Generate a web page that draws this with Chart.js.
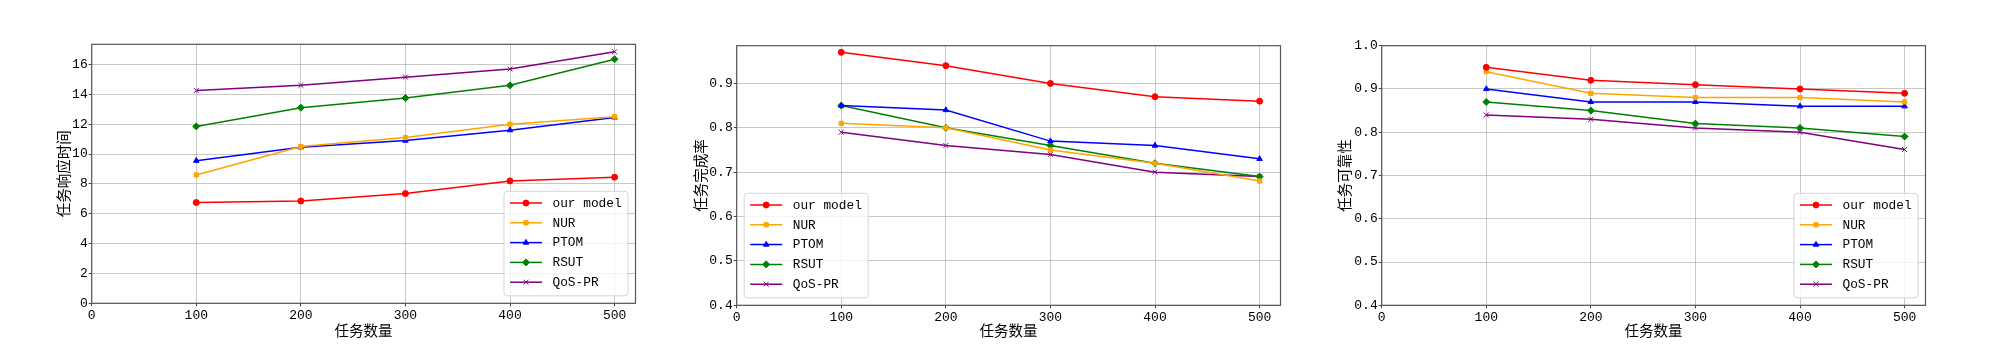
<!DOCTYPE html>
<html lang="zh">
<head>
<meta charset="UTF-8">
<title>任务数量对比</title>
<script src="https://cdn.jsdelivr.net/npm/chart.js"></script>
<style>
    body { margin: 0; background: #fff; }
    .panel { position: absolute; top: 0; }
</style>
</head>
<body>
<div class="panel" style="left:0px"><canvas id="respChart" width="645" height="344"></canvas></div>
<div class="panel" style="left:645px"><canvas id="doneChart" width="645" height="344"></canvas></div>
<div class="panel" style="left:1290px"><canvas id="relChart" width="645" height="344"></canvas></div>
<script>
// x axis: number of tasks
const taskCounts = [100, 200, 300, 400, 500];
const seriesNames = ['our model', 'NUR', 'PTOM', 'RSUT', 'QoS-PR'];

// 任务响应时间
const respOurs = [6.75, 6.85, 7.35, 8.2, 8.45];
const respNUR  = [8.6, 10.5, 11.1, 12.0, 12.5];
const respPTOM = [9.55, 10.45, 10.9, 11.6, 12.45];
const respRSUT = [11.85, 13.1, 13.75, 14.6, 16.35];
const respQoS  = [14.25, 14.6, 15.15, 15.7, 16.85];

// 任务完成率
const doneOurs = [0.97, 0.94, 0.90, 0.87, 0.86];
const doneNUR  = [0.81, 0.80, 0.75, 0.72, 0.68];
const donePTOM = [0.85, 0.84, 0.77, 0.76, 0.73];
const doneRSUT = [0.85, 0.80, 0.76, 0.72, 0.69];
const doneQoS  = [0.79, 0.76, 0.74, 0.70, 0.69];

// 任务可靠性
const relOurs = [0.95, 0.92, 0.91, 0.90, 0.89];
const relNUR  = [0.94, 0.89, 0.88, 0.88, 0.87];
const relPTOM = [0.90, 0.87, 0.87, 0.86, 0.86];
const relRSUT = [0.87, 0.85, 0.82, 0.81, 0.79];
const relQoS  = [0.84, 0.83, 0.81, 0.80, 0.76];

// line styles (matplotlib-ish)
const lineColors = ['#ff0000', '#ffa500', '#0000ff', '#008000', '#800080'];
const markers = ['circle', 'rect', 'triangle', 'rectRot', 'crossRot'];
const markerSize = [3, 3, 3.2, 3.5, 3.5];

const monoFont = '"Liberation Mono", "DejaVu Sans Mono", monospace';
const cjkFont = '"Noto Sans CJK SC", "Noto Sans", sans-serif';

// box around the plot area
const frame = {
    id: 'frame',
    afterDatasetsDraw(chart) {
        const a = chart.chartArea;
        const ctx = chart.ctx;
        ctx.save();
        ctx.strokeStyle = '#555';
        ctx.lineWidth = 1.2;
        ctx.strokeRect(a.left, a.top, a.right - a.left, a.bottom - a.top);
        ctx.restore();
    }
};

// legend drawn inside the plot, like plt.legend(loc=...)
const boxLegend = {
    id: 'boxLegend',
    afterDatasetsDraw(chart, args, opts) {
        const a = chart.chartArea;
        const ctx = chart.ctx;
        const w = 124, h = 104.5, inset = 7.5, rowH = 19.8;
        const x = opts.side === 'left' ? a.left + inset : a.right - inset - w;
        const y = a.bottom - inset - h;
        ctx.save();
        ctx.fillStyle = 'rgba(255,255,255,0.8)';
        ctx.strokeStyle = '#d5d5d5';
        ctx.lineWidth = 1;
        ctx.beginPath();
        ctx.roundRect(x, y, w, h, 3);
        ctx.fill();
        ctx.stroke();
        chart.data.datasets.forEach((ds, i) => {
            const cy = y + 11.7 + i * rowH;
            ctx.strokeStyle = ds.borderColor;
            ctx.fillStyle = ds.borderColor;
            ctx.lineWidth = ds.borderWidth;
            ctx.beginPath();
            ctx.moveTo(x + 6, cy);
            ctx.lineTo(x + 38, cy);
            ctx.stroke();
            ctx.lineWidth = 1;
            Chart.helpers.drawPoint(ctx, {
                pointStyle: ds.pointStyle, rotation: 0, radius: ds.pointRadius, borderWidth: 1
            }, x + 22, cy);
            ctx.fillStyle = '#000';
            ctx.font = '12.8px ' + monoFont;
            ctx.textBaseline = 'middle';
            ctx.textAlign = 'left';
            ctx.fillText(ds.label, x + 48.5, cy + 0.5);
        });
        ctx.restore();
    }
};

function makeSets(lists) {
    return lists.map((vals, i) => ({
        label: seriesNames[i],
        data: taskCounts.map((t, k) => ({ x: t, y: vals[k] })),
        borderColor: lineColors[i],
        backgroundColor: lineColors[i],
        borderWidth: 1.5,
        pointStyle: markers[i],
        pointRadius: markerSize[i],
        pointBorderWidth: 1,
        tension: 0
    }));
}

function makeChart(id, lists, opt) {
    return new Chart(document.getElementById(id), {
        type: 'line',
        data: { datasets: makeSets(lists) },
        plugins: [frame, boxLegend],
        options: {
            responsive: false,
            animation: false,
            layout: { padding: { top: opt.top, right: 9.5, left: 0, bottom: 0 } },
            plugins: {
                legend: { display: false },
                tooltip: { enabled: false },
                boxLegend: { side: opt.legendSide }
            },
            scales: {
                x: {
                    type: 'linear',
                    min: 0,
                    max: 520,
                    afterFit(s) { s.height = opt.xh; },
                    border: { display: false },
                    grid: { color: 'rgba(176,176,176,0.7)', lineWidth: 1, tickColor: '#444', tickLength: 3 },
                    ticks: {
                        stepSize: 100, includeBounds: false, padding: 1, color: '#000',
                        maxRotation: 0, font: { family: monoFont, size: 13 }
                    },
                    title: {
                        display: true, text: '任务数量', color: '#000',
                        font: { family: cjkFont, size: 14.5 }, padding: { top: 0, bottom: 4.5 }
                    }
                },
                y: {
                    type: 'linear',
                    min: opt.ymin,
                    max: opt.ymax,
                    afterFit(s) { s.width = 91.7; },
                    border: { display: false },
                    grid: { color: 'rgba(176,176,176,0.7)', lineWidth: 1, tickColor: '#444', tickLength: 3 },
                    ticks: {
                        stepSize: opt.step, includeBounds: false, padding: 1, color: '#000',
                        font: { family: monoFont, size: 13 },
                        callback: v => opt.dec ? v.toFixed(opt.dec) : String(v)
                    },
                    title: {
                        display: true, text: opt.ytitle, color: '#000',
                        font: { family: cjkFont, size: 14.5 }, padding: { top: opt.ytpad, bottom: 0 }
                    }
                }
            }
        }
    });
}

makeChart('respChart', [respOurs, respNUR, respPTOM, respRSUT, respQoS], {
    top: 44.3, xh: 40.7, ymin: 0, ymax: 17.35, step: 2, dec: 0,
    ytitle: '任务响应时间', ytpad: 54.3, legendSide: 'right'
});
makeChart('doneChart', [doneOurs, doneNUR, donePTOM, doneRSUT, doneQoS], {
    top: 45.7, xh: 38.7, ymin: 0.4, ymax: 0.985, step: 0.1, dec: 1,
    ytitle: '任务完成率', ytpad: 46.3, legendSide: 'left'
});
makeChart('relChart', [relOurs, relNUR, relPTOM, relRSUT, relQoS], {
    top: 45.7, xh: 38.7, ymin: 0.4, ymax: 1.0, step: 0.1, dec: 1,
    ytitle: '任务可靠性', ytpad: 45.3, legendSide: 'right'
});
</script>
</body>
</html>
